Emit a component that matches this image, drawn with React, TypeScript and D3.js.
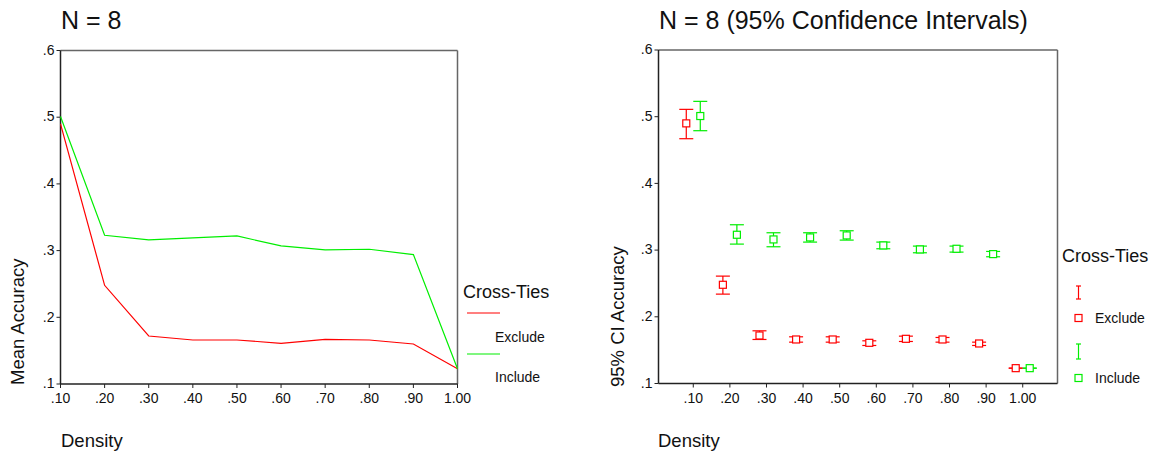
import React from 'react';
import * as d3 from 'd3';

// densities (x categories)
const density = [0.1, 0.2, 0.3, 0.4, 0.5, 0.6, 0.7, 0.8, 0.9, 1.0];
const yTicks = [0.1, 0.2, 0.3, 0.4, 0.5, 0.6];

// mean accuracy per series
const excludeMean = [0.49, 0.248, 0.172, 0.166, 0.166, 0.161, 0.167, 0.166, 0.16, 0.123];
const includeMean = [0.501, 0.323, 0.316, 0.319, 0.322, 0.307, 0.301, 0.302, 0.294, 0.123];

// 95% CI bounds
const excludeLow = [0.467, 0.234, 0.166, 0.162, 0.162, 0.157, 0.163, 0.162, 0.157, 0.123];
const excludeHigh = [0.511, 0.261, 0.179, 0.17, 0.17, 0.164, 0.171, 0.169, 0.162, 0.123];
const includeLow = [0.479, 0.309, 0.305, 0.312, 0.315, 0.302, 0.296, 0.297, 0.29, 0.123];
const includeHigh = [0.523, 0.338, 0.326, 0.326, 0.329, 0.312, 0.306, 0.306, 0.298, 0.123];

const RED = '#ff0000';
const GREEN = '#00ee00';
const FONT = 'Arial, "Liberation Sans", sans-serif';

const TICK_FS = 14;
const TITLE_FS = 25;
const AXIS_FS = 18.5;
const LEG_TITLE_FS = 18;

const fmtY = (v: number) => d3.format('.1f')(v).replace(/^0/, '');
const fmtX = (v: number) => d3.format('.2f')(v).replace(/^0/, '');

const TOP = 50.5;
const BOTTOM = 384;

const LineChart = () => {
  const x = d3.scaleLinear().domain([0.1, 1.0]).range([60.5, 457.5]);
  const y = d3.scaleLinear().domain([0.1, 0.6]).range([BOTTOM, TOP]);
  const line = d3
    .line<number>()
    .x((_, i) => x(density[i]))
    .y((d) => y(d));

  return (
    <g>
      <text x={61} y={29} fontSize={TITLE_FS}>N = 8</text>
      {/* frame */}
      <line x1={x(1)} x2={x(1)} y1={TOP} y2={BOTTOM} stroke="#666" strokeWidth={1.5} />
      <line x1={x(0.1)} x2={x(1)} y1={TOP} y2={TOP} stroke="#666" strokeWidth={1.5} />
      <line x1={x(0.1)} x2={x(0.1)} y1={TOP} y2={BOTTOM} stroke="#222" strokeWidth={1.5} />
      <line x1={x(0.1)} x2={x(1)} y1={BOTTOM} y2={BOTTOM} stroke="#222" strokeWidth={1.5} />
      {yTicks.map((t) => (
        <g key={t}>
          <line x1={x(0.1) - 4} x2={x(0.1)} y1={y(t)} y2={y(t)} stroke="#222" />
          <text x={x(0.1) - 6} y={y(t)} dy="0.3em" textAnchor="end" fontSize={TICK_FS}>{fmtY(t)}</text>
        </g>
      ))}
      {density.map((d) => (
        <g key={d}>
          <line x1={x(d)} x2={x(d)} y1={BOTTOM} y2={BOTTOM + 4} stroke="#222" />
          <text x={x(d)} y={BOTTOM + 19} textAnchor="middle" fontSize={TICK_FS}>{fmtX(d)}</text>
        </g>
      ))}
      <path d={line(excludeMean) || ''} fill="none" stroke={RED} strokeWidth={1.2} />
      <path d={line(includeMean) || ''} fill="none" stroke={GREEN} strokeWidth={1.2} />
      <text transform={`translate(24,385) rotate(-90)`} fontSize={AXIS_FS}>Mean Accuracy</text>
      <text x={61} y={447} fontSize={AXIS_FS}>Density</text>
      {/* legend */}
      <text x={463} y={298} fontSize={LEG_TITLE_FS}>Cross-Ties</text>
      <line x1={467} x2={500} y1={313} y2={313} stroke={RED} strokeWidth={1.2} />
      <text x={495} y={342} fontSize={TICK_FS}>Exclude</text>
      <line x1={467} x2={500} y1={354} y2={354} stroke={GREEN} strokeWidth={1.2} />
      <text x={495} y={382} fontSize={TICK_FS}>Include</text>
    </g>
  );
};

const ErrorBar = ({ cx, lo, hi, mid, color }: { cx: number; lo: number; hi: number; mid: number; color: string }) => (
  <g stroke={color} strokeWidth={1.2} fill="none">
    <line x1={cx} x2={cx} y1={lo} y2={hi} />
    <line x1={cx - 7} x2={cx + 7} y1={lo} y2={lo} />
    <line x1={cx - 7} x2={cx + 7} y1={hi} y2={hi} />
    <rect x={cx - 3.5} y={mid - 3.5} width={7} height={7} fill="#fff" />
  </g>
);

const CIChart = () => {
  const x = d3
    .scalePoint<string>()
    .domain(density.map(fmtX))
    .range([658.5, 1057.5])
    .padding(0.95);
  const y = d3.scaleLinear().domain([0.1, 0.6]).range([BOTTOM - 0.5, TOP - 0.5]);
  const left = 658.5;
  const right = 1057.5;
  const top = TOP - 0.5;
  const bottom = BOTTOM - 0.5;

  return (
    <g>
      <text x={659} y={29} fontSize={TITLE_FS}>N = 8 (95% Confidence Intervals)</text>
      <line x1={right} x2={right} y1={top} y2={bottom} stroke="#666" strokeWidth={1.5} />
      <line x1={left} x2={right} y1={top} y2={top} stroke="#666" strokeWidth={1.5} />
      <line x1={left} x2={left} y1={top} y2={bottom} stroke="#222" strokeWidth={1.5} />
      <line x1={left} x2={right} y1={bottom} y2={bottom} stroke="#222" strokeWidth={1.5} />
      {yTicks.map((t) => (
        <g key={t}>
          <line x1={left - 4} x2={left} y1={y(t)} y2={y(t)} stroke="#222" />
          <text x={left - 6} y={y(t)} dy="0.3em" textAnchor="end" fontSize={TICK_FS}>{fmtY(t)}</text>
        </g>
      ))}
      {density.map((d, i) => {
        const cx = x(fmtX(d)) as number;
        return (
          <g key={d}>
            <line x1={cx} x2={cx} y1={bottom} y2={bottom + 4} stroke="#222" />
            <text x={cx} y={bottom + 19} textAnchor="middle" fontSize={TICK_FS}>{fmtX(d)}</text>
            <ErrorBar cx={cx - 7} lo={y(excludeLow[i])} hi={y(excludeHigh[i])} mid={y(excludeMean[i])} color={RED} />
            <ErrorBar cx={cx + 7} lo={y(includeLow[i])} hi={y(includeHigh[i])} mid={y(includeMean[i])} color={GREEN} />
          </g>
        );
      })}
      <text transform={`translate(624,387) rotate(-90)`} fontSize={AXIS_FS}>95% CI Accuracy</text>
      <text x={658} y={447} fontSize={AXIS_FS}>Density</text>
      {/* legend */}
      <text x={1062} y={262} fontSize={LEG_TITLE_FS}>Cross-Ties</text>
      <g stroke={RED} strokeWidth={1.2}>
        <line x1={1078.5} x2={1078.5} y1={286} y2={299} />
        <line x1={1076} x2={1081} y1={286} y2={286} />
        <line x1={1076} x2={1081} y1={299} y2={299} />
        <rect x={1075} y={314.5} width={7} height={7} fill="#fff" />
      </g>
      <text x={1095} y={318} dy="0.35em" fontSize={TICK_FS}>Exclude</text>
      <g stroke={GREEN} strokeWidth={1.2}>
        <line x1={1078.5} x2={1078.5} y1={344} y2={359} />
        <line x1={1076} x2={1081} y1={344} y2={344} />
        <line x1={1076} x2={1081} y1={359} y2={359} />
        <rect x={1075} y={374.5} width={7} height={7} fill="#fff" />
      </g>
      <text x={1095} y={378} dy="0.35em" fontSize={TICK_FS}>Include</text>
    </g>
  );
};

export default function App() {
  return (
    <svg
      width={1154}
      height={453}
      style={{ position: 'absolute', left: 0, top: 0, background: '#fff' }}
      fontFamily={FONT}
      fill="#111"
    >
      <LineChart />
      <CIChart />
    </svg>
  );
}
